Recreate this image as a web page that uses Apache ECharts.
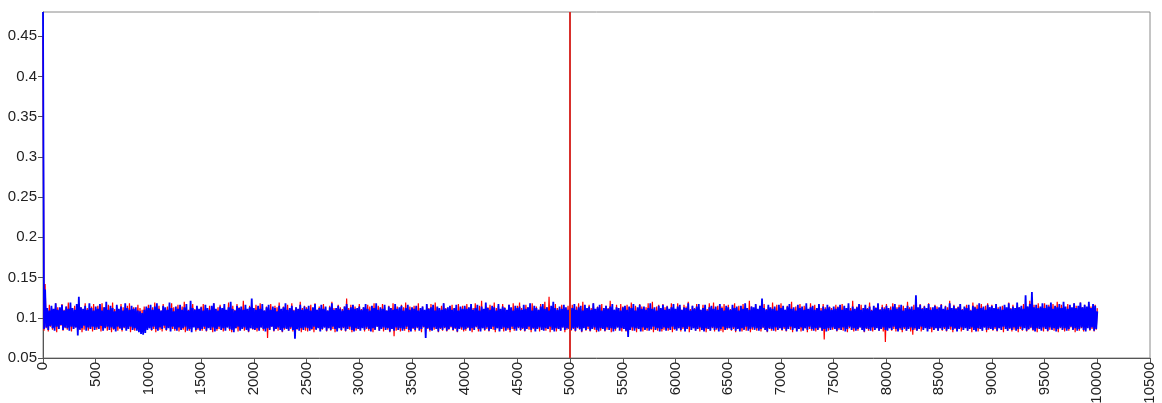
<!DOCTYPE html>
<html>
<head>
<meta charset="utf-8">
<script src="https://cdn.jsdelivr.net/npm/echarts@6/dist/echarts.min.js"></script>
<style>
  html, body { margin: 0; padding: 0; background: #fff; }
</style>
</head>
<body>
<div id="main" style="width: 1162px;height:403px;"></div>
<script type="text/javascript">
    // the trace swings between a high and a low every few samples,
    // so each 20-unit slot keeps its high (at x) and its low (at x + 10).
    // values in thousandths (100 = 0.1), 25 per row = 500 x-units per row
    var xStep = 20;

    var blueHi = [
        480,135,112,109,115,111,118,110,113,116,109,114,111,119,112,110,117,126,113,111,115,110,118,112,109,
        114,111,117,109,113,120,110,115,112,108,116,111,114,109,118,112,110,115,111,113,109,108,106,110,114,
        112,116,110,114,118,111,109,115,113,110,119,112,108,114,111,116,110,113,117,109,121,112,110,115,111,
        113,109,116,112,110,115,118,111,109,114,112,117,110,113,120,111,109,115,112,114,110,116,111,113,124,
        112,110,115,111,117,109,113,116,110,114,112,108,115,111,113,118,110,112,115,109,113,111,116,110,114,
        111,115,109,113,117,110,112,116,111,114,109,113,118,110,112,115,111,109,114,117,110,113,116,111,112,
        114,110,113,117,111,109,115,112,118,110,113,111,116,109,114,112,110,117,111,113,115,109,112,116,110,
        113,111,115,109,112,114,110,117,111,113,116,109,114,112,110,118,111,113,115,110,112,116,109,114,111,
        115,111,113,117,110,112,116,109,114,111,119,112,110,115,113,109,117,111,114,112,110,116,113,109,115,
        112,114,110,116,111,113,118,109,115,112,110,114,117,111,113,109,115,120,112,110,114,111,116,113,110,
        114,112,117,110,113,115,109,116,112,114,110,118,111,113,116,109,112,115,111,114,117,110,113,112,109,
        113,115,110,114,112,117,109,113,116,111,114,110,112,118,111,113,109,115,112,116,110,114,111,113,117,
        111,114,116,110,113,112,118,109,115,111,114,117,110,112,116,109,113,115,111,114,110,117,112,109,115,
        113,110,116,112,114,109,115,111,118,112,110,114,113,117,111,115,124,112,110,116,113,111,114,109,116,
        112,115,110,114,117,111,113,109,116,112,114,110,118,111,113,115,110,112,117,109,114,111,116,113,110,
        114,111,113,116,110,115,112,118,109,114,111,113,117,110,112,116,111,114,109,115,112,118,110,113,111,
        115,112,110,114,117,111,113,116,109,112,115,111,114,110,128,113,116,111,114,112,117,110,113,115,111,
        113,116,111,114,110,118,112,115,111,113,117,110,114,112,116,109,115,113,111,118,112,114,110,116,113,
        115,112,117,111,114,110,116,113,118,111,114,112,119,113,115,111,128,114,117,132,113,116,112,114,118,
        112,116,114,119,111,115,113,117,112,120,114,111,116,113,118,112,115,119,113,116,114,120,112,117,115,
        108
    ];
    var blueLo = [
         86, 88, 85, 90, 87, 84, 89, 86, 91, 85, 88, 87, 84, 89, 86, 88, 78, 85, 87, 90, 84, 88, 86, 89, 85,
         88, 86, 90, 84, 87, 89, 85, 88, 86, 83, 89, 87, 85, 88, 84, 86, 89, 85, 87, 84, 82, 80, 79, 81, 85,
         87, 85, 89, 86, 84, 88, 86, 90, 85, 87, 83, 89, 86, 84, 88, 85, 87, 89, 84, 86, 82, 88, 85, 87, 84,
         86, 89, 84, 87, 85, 88, 83, 86, 89, 85, 87, 84, 88, 86, 85, 82, 87, 89, 84, 86, 88, 85, 83, 87, 86,
         85, 87, 84, 88, 86, 83, 87, 85, 89, 84, 86, 88, 85, 83, 87, 86, 84, 88, 85, 74, 86, 84, 87, 85, 88,
         87, 84, 86, 89, 85, 87, 83, 86, 88, 84, 87, 85, 89, 86, 83, 87, 85, 88, 84, 86, 89, 85, 83, 87, 86,
         84, 87, 85, 88, 86, 83, 87, 85, 89, 84, 86, 88, 85, 87, 83, 86, 84, 88, 85, 87, 84, 86, 89, 85, 83,
         87, 85, 88, 84, 86, 89, 75, 87, 85, 84, 88, 86, 83, 87, 85, 88, 84, 86, 89, 85, 87, 83, 86, 88, 85,
         86, 88, 84, 87, 85, 89, 86, 83, 87, 85, 88, 84, 86, 89, 85, 87, 83, 86, 88, 84, 87, 85, 89, 86, 84,
         88, 85, 87, 84, 86, 89, 85, 87, 83, 86, 88, 85, 84, 87, 86, 89, 85, 83, 87, 86, 84, 88, 85, 87, 86,
         85, 87, 84, 88, 86, 83, 87, 85, 89, 84, 86, 88, 85, 83, 87, 86, 84, 88, 85, 87, 83, 86, 88, 84, 87,
         86, 84, 76, 85, 88, 84, 87, 86, 83, 88, 85, 87, 84, 86, 89, 85, 87, 83, 86, 88, 84, 87, 85, 89, 86,
         84, 87, 85, 88, 83, 86, 89, 85, 87, 84, 86, 88, 85, 83, 87, 86, 84, 88, 85, 87, 83, 86, 89, 85, 87,
         87, 85, 88, 84, 86, 83, 87, 85, 89, 84, 86, 88, 85, 87, 84, 86, 88, 85, 83, 87, 86, 84, 88, 85, 87,
         85, 88, 84, 86, 89, 85, 87, 83, 86, 88, 84, 87, 85, 89, 86, 84, 87, 85, 88, 84, 86, 83, 87, 85, 88,
         86, 84, 87, 85, 88, 83, 86, 89, 85, 87, 84, 86, 88, 85, 83, 87, 86, 84, 88, 85, 87, 84, 86, 88, 85,
         84, 87, 85, 89, 86, 83, 87, 85, 88, 84, 86, 88, 85, 87, 84, 86, 89, 85, 87, 83, 86, 88, 85, 87, 84,
         87, 85, 88, 84, 86, 89, 85, 87, 83, 86, 88, 85, 87, 84, 86, 88, 85, 83, 87, 86, 84, 88, 85, 87, 86,
         85, 88, 84, 87, 85, 89, 86, 84, 87, 85, 88, 84, 86, 89, 85, 87, 84, 86, 88, 85, 83, 87, 86, 84, 88,
         86, 84, 88, 85, 87, 83, 86, 88, 85, 87, 84, 86, 89, 85, 87, 84, 86, 88, 85, 83, 87, 85, 88, 84, 86
    ];
    var redHi = [
        450,142,110,116,112,109,118,113,111,117,110,114,119,112,109,115,111,116,113,110,118,112,109,114,117,
        111,115,109,118,113,110,116,112,119,111,114,109,117,113,110,115,118,111,113,109,116,112,110,114,111,
        116,110,113,119,111,115,109,117,112,114,110,118,113,111,116,109,114,120,112,110,115,117,111,113,109,
        114,117,111,109,115,112,118,110,113,116,111,114,109,119,112,115,110,117,113,111,121,112,109,115,113,
        110,116,113,118,111,109,114,112,117,110,115,113,119,111,114,109,116,112,118,110,113,111,120,112,115,
        113,109,116,112,118,110,114,111,117,113,109,115,120,112,110,116,113,111,114,124,112,116,110,114,111,
        117,111,113,109,116,114,110,118,112,115,111,117,113,109,115,112,118,111,114,110,116,113,119,111,114,
        110,115,113,118,111,114,109,116,112,117,110,119,113,111,115,118,112,110,114,116,111,113,117,112,115,
        113,117,110,114,112,118,111,115,121,110,114,113,116,111,119,112,115,110,117,113,109,116,112,118,111,
        115,119,112,110,116,113,111,118,112,114,110,117,115,120,113,126,111,114,117,112,110,116,113,111,115,
        112,116,110,114,118,111,120,113,110,116,112,118,111,114,113,117,110,115,112,121,113,110,116,112,117,
        114,111,116,113,119,110,115,112,117,114,111,113,118,112,120,110,114,116,111,117,113,115,110,118,112,
        111,118,113,110,116,114,120,111,115,112,117,113,110,116,114,111,118,112,119,113,115,110,114,117,112,
        116,111,114,118,112,115,110,117,113,111,121,114,112,116,110,115,113,117,111,114,110,119,112,116,113,
        118,112,110,115,113,120,111,114,112,117,110,115,113,111,118,114,116,111,115,112,117,113,110,114,112,
        111,116,114,110,117,113,111,115,112,121,110,114,113,116,111,115,112,119,110,114,113,117,111,116,113,
        117,112,114,118,110,113,116,111,115,112,120,113,111,116,114,110,117,112,115,111,118,113,110,116,114,
        112,117,111,115,113,121,110,116,112,114,117,111,113,116,112,110,119,114,116,111,117,112,115,118,113,
        116,111,117,113,110,115,114,111,119,112,116,110,115,113,111,117,112,114,121,113,116,111,118,112,114,
        118,113,116,111,117,114,120,112,116,113,110,117,114,112,118,115,111,119,113,116,112,117,114,111,116,
        112
    ];
    var redLo = [
         84, 87, 83, 89, 85, 88, 82, 86, 90, 84, 87, 85, 89, 83, 86, 88, 84, 87, 82, 85, 89, 84, 86, 83, 87,
         85, 88, 83, 86, 89, 84, 87, 82, 85, 88, 84, 86, 83, 87, 85, 89, 82, 86, 84, 88, 85, 83, 87, 84, 86,
         87, 84, 86, 82, 88, 85, 83, 87, 84, 89, 86, 86, 84, 88, 83, 86, 85, 82, 87, 84, 86, 89, 83, 85, 88,
         84, 86, 83, 88, 85, 82, 87, 84, 86, 89, 83, 85, 88, 84, 82, 86, 87, 83, 85, 88, 84, 86, 82, 87, 85,
         86, 83, 85, 88, 84, 87, 75, 85, 89, 83, 86, 84, 87, 82, 85, 88, 84, 86, 83, 87, 85, 88, 82, 86, 84,
         83, 87, 85, 82, 86, 89, 84, 85, 88, 83, 87, 84, 86, 82, 85, 89, 84, 87, 83, 86, 85, 82, 88, 84, 86,
         85, 88, 83, 86, 84, 87, 82, 85, 89, 84, 86, 83, 88, 85, 82, 86, 77, 84, 85, 83, 87, 84, 86, 82, 88,
         86, 83, 87, 85, 82, 88, 84, 86, 83, 87, 85, 89, 82, 86, 84, 87, 83, 85, 88, 84, 86, 82, 87, 85, 83,
         84, 87, 85, 82, 86, 88, 83, 85, 87, 84, 86, 83, 89, 85, 82, 87, 84, 86, 83, 88, 85, 82, 86, 84, 87,
         87, 84, 86, 83, 88, 85, 82, 86, 84, 87, 83, 85, 88, 84, 86, 82, 87, 85, 83, 86, 84, 88, 82, 85, 87,
         84, 86, 83, 87, 85, 82, 88, 84, 86, 83, 87, 85, 82, 86, 84, 88, 83, 85, 87, 82, 86, 84, 88, 85, 83,
         86, 83, 85, 88, 84, 86, 82, 87, 85, 83, 86, 84, 88, 85, 82, 86, 84, 87, 83, 85, 88, 84, 86, 82, 85,
         85, 87, 83, 86, 84, 88, 82, 85, 87, 84, 86, 83, 89, 85, 82, 86, 84, 87, 83, 85, 88, 84, 82, 86, 85,
         87, 84, 86, 82, 88, 85, 83, 86, 84, 87, 82, 85, 88, 84, 86, 83, 87, 85, 82, 86, 84, 88, 83, 85, 87,
         84, 86, 83, 87, 85, 82, 88, 84, 86, 83, 85, 87, 82, 86, 84, 88, 83, 85, 87, 84, 73, 86, 84, 87, 85,
         86, 83, 85, 88, 84, 86, 82, 87, 85, 83, 86, 84, 88, 85, 82, 86, 84, 87, 83, 85, 88, 84, 86, 83, 70,
         85, 87, 84, 86, 83, 88, 85, 82, 86, 84, 87, 83, 79, 85, 84, 87, 83, 86, 88, 84, 86, 82, 85, 87, 84,
         87, 84, 86, 83, 88, 85, 82, 86, 84, 87, 83, 85, 88, 84, 86, 82, 87, 85, 83, 86, 84, 88, 82, 85, 87,
         84, 86, 83, 87, 85, 82, 88, 84, 86, 83, 85, 87, 82, 86, 84, 88, 83, 85, 87, 84, 86, 82, 88, 85, 83,
         86, 83, 85, 88, 84, 86, 82, 87, 85, 83, 86, 84, 88, 85, 82, 86, 84, 87, 83, 85, 88, 84, 86, 83, 85
    ];
    var markX = 5000;
    var yTicks = [0.05, 0.1, 0.15, 0.2, 0.25, 0.3, 0.35, 0.4, 0.45];

    // highs at x, lows half a step later -> [x, y] pairs
    function toPairs(hi, lo) {
        var out = [];
        for (var i = 0; i < hi.length; i++) {
            out.push([i * xStep, hi[i] / 1000]);
            if (i < lo.length) out.push([i * xStep + xStep / 2, lo[i] / 1000]);
        }
        return out;
    }

    var myChart = echarts.init(document.getElementById('main'));
    var font = "'Liberation Sans', Arial, sans-serif";

    var option = {
        animation: false,
        grid: {
            left: 43, right: 12, top: 12, bottom: 45,
            outerBoundsMode: 'none',
            show: true, borderColor: '#8a8a8a', borderWidth: 1
        },
        xAxis: {
            type: 'value',
            min: 0, max: 10500, interval: 500,
            axisLine: { show: true, lineStyle: { color: '#555' } },
            axisTick: { show: true, length: 5, lineStyle: { color: '#555' } },
            axisLabel: {
                rotate: 90, fontSize: 15, color: '#222', margin: 4, fontFamily: font,
                formatter: function (v) { return String(v); }
            },
            splitLine: { show: false }
        },
        yAxis: {
            type: 'value',
            min: 0.05, max: 0.48,
            axisLine: { show: true, lineStyle: { color: '#555' } },
            axisTick: { show: true, length: 5, customValues: yTicks, lineStyle: { color: '#555' } },
            axisLabel: { customValues: yTicks, fontSize: 15, color: '#222', margin: 6, fontFamily: font },
            splitLine: { show: false }
        },
        series: [
            {
                type: 'line',
                data: toPairs(redHi, redLo),
                showSymbol: false,
                symbol: 'none',
                sampling: false,
                lineStyle: { color: '#ff0000', width: 1.2 },
                itemStyle: { color: '#ff0000' },
                markLine: {
                    silent: true,
                    symbol: 'none',
                    label: { show: false },
                    lineStyle: { color: '#d8302c', width: 2, type: 'solid' },
                    data: [{ xAxis: markX }]
                }
            },
            {
                type: 'line',
                data: toPairs(blueHi, blueLo),
                showSymbol: false,
                symbol: 'none',
                sampling: false,
                lineStyle: { color: '#0000ff', width: 1.8 },
                itemStyle: { color: '#0000ff' }
            }
        ]
    };

    myChart.setOption(option);
</script>
</body>
</html>
